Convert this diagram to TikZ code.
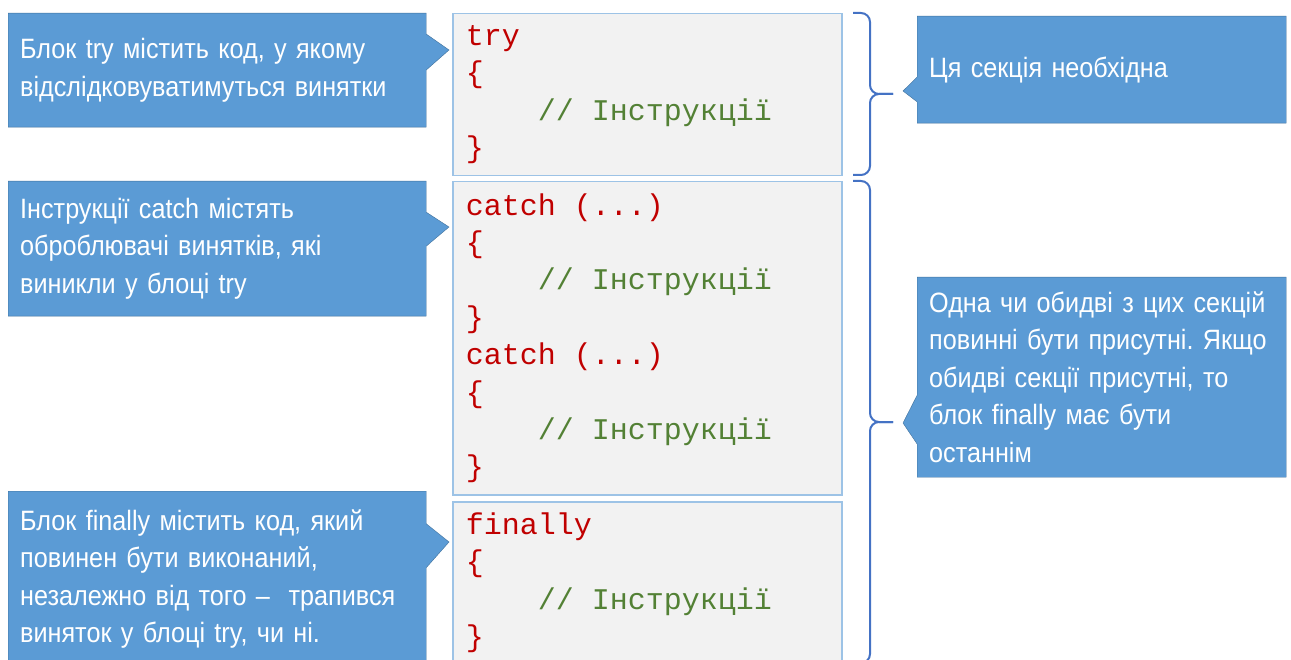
\documentclass[tikz,border=0pt]{standalone}
\usepackage{fontspec}
\setmainfont{Liberation Sans}[FakeStretch=0.9]
\newfontfamily\codefont{Liberation Mono}
\usetikzlibrary{shapes.callouts}
\definecolor{mBlue}{HTML}{5B9BD5}
\definecolor{mBlueDark}{HTML}{41719C}
\definecolor{mCodeBg}{HTML}{F2F2F2}
\definecolor{mCodeLine}{HTML}{9DC3E6}
\definecolor{mBrace}{HTML}{4472C4}
\definecolor{mKey}{HTML}{C00000}
\definecolor{mCmt}{HTML}{538135}
\frenchspacing
\newcommand{\notefont}{\fontsize{28pt}{37.5pt}\selectfont\spaceskip=5.5pt\relax}
\newcommand{\csp}{\phantom{x}}
\newcommand{\kw}[1]{\textcolor{mKey}{#1}}
\newcommand{\codecmt}{\phantom{xxxx}\textcolor{mCmt}{//\csp Інструкції}}

\begin{document}
\begin{tikzpicture}[x=1pt, y=-1pt,
  note/.style={rectangle callout, draw=mBlueDark, fill=mBlue, text=white,
               inner xsep=12pt, inner ysep=0pt, align=left, anchor=north west,
               font=\notefont},
  code/.style={draw=mCodeLine, line width=1.5pt, fill=mCodeBg, anchor=north west,
               text width=363pt, inner xsep=13pt, inner ysep=0pt, align=left,
               font=\codefont\fontsize{30pt}{37.4pt}\selectfont},
  brc/.style={draw=mBrace, line width=2pt, rounded corners=9pt},
]
  \useasboundingbox (0,0) rectangle (1291,660);
  \clip (0,0) rectangle (1291,660);

  % code blocks
  \node[code, minimum height=162pt] (tryCode) at (452,13)
    {\kw{try}\\ \kw{\{}\\ \codecmt\\ \kw{\}}};
  \node[code, minimum height=313pt] (catchCode) at (452,181)
    {\kw{catch\csp(...)}\\ \kw{\{}\\ \codecmt\\ \kw{\}}\\
     \kw{catch\csp(...)}\\ \kw{\{}\\ \codecmt\\ \kw{\}}};
  \node[code, minimum height=162pt] (finallyCode) at (452,501)
    {\kw{finally}\\ \kw{\{}\\ \codecmt\\ \kw{\}}};

  % left notes
  \node[note, text width=394pt, minimum height=114pt, callout pointer width=36pt,
        callout absolute pointer={(449,50)}] (tryNote) at (8,13)
    {Блок try містить код, у якому\\ відслідковуватимуться винятки};
  \node[note, text width=394pt, minimum height=135pt, callout pointer width=34pt,
        callout absolute pointer={(449,227)}] (catchNote) at (8,181)
    {Інструкції catch містять\\ оброблювачі винятків, які\\ виникли у блоці try};
  \node[note, text width=394pt, minimum height=176pt, callout pointer width=44pt,
        callout absolute pointer={(449,542)}] (finallyNote) at (8,491)
    {Блок finally містить код, який\\ повинен бути виконаний,\\
     незалежно від того – \ трапився\\ виняток у блоці try, чи ні.};

  % braces
  \foreach \ya/\yb/\yc in {13/94/175, 181/422/663} {
    \draw[brc] (853,\ya) -- (870,\ya) -- (870,\yb) -- (893,\yb);
    \draw[brc] (893,\yb) -- (870,\yb) -- (870,\yc) -- (853,\yc);
  }

  % right notes
  \node[note, text width=345pt, minimum height=107pt, callout pointer width=25pt,
        callout absolute pointer={(903,91)}] (needNote) at (917,16)
    {Ця секція необхідна};
  \node[note, text width=345pt, minimum height=200pt, callout pointer width=49pt,
        callout absolute pointer={(903,423)}] (orderNote) at (917,277)
    {Одна чи обидві з цих секцій\\ повинні бути присутні. Якщо\\
     обидві секції присутні, то\\ блок finally має бути\\ останнім};
\end{tikzpicture}
\end{document}
